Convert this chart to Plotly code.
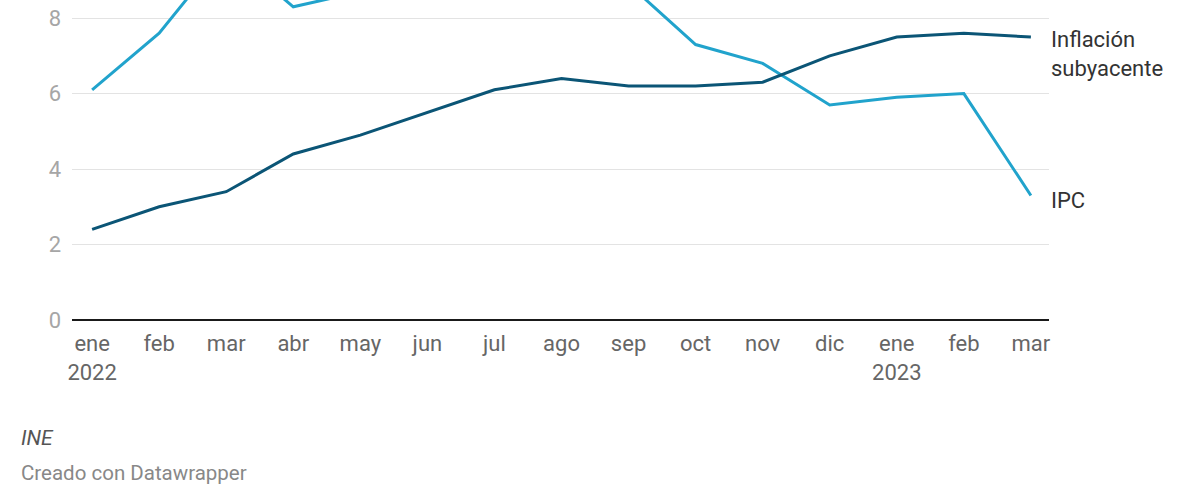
import plotly.graph_objects as go

# meses de ene 2022 a mar 2023
meses = ["ene<br>2022", "feb", "mar", "abr", "may", "jun", "jul", "ago",
         "sep", "oct", "nov", "dic", "ene<br>2023", "feb", "mar"]
ipc = [6.1, 7.6, 9.8, 8.3, 8.7, 10.2, 10.8, 10.5, 8.9, 7.3, 6.8, 5.7, 5.9, 6.0, 3.3]
subyacente = [2.4, 3.0, 3.4, 4.4, 4.9, 5.5, 6.1, 6.4, 6.2, 6.2, 6.3, 7.0, 7.5, 7.6, 7.5]
y_ticks = [0, 2, 4, 6, 8]

x = list(range(len(meses)))
font = "Roboto, Noto Sans, sans-serif"

fig = go.Figure()

fig.add_trace(go.Scatter(
    x=x, y=ipc, mode="lines", name="IPC",
    line=dict(color="#21a3cc", width=3),
))
fig.add_trace(go.Scatter(
    x=x, y=subyacente, mode="lines", name="Inflación subyacente",
    line=dict(color="#0b5576", width=3),
))

# etiquetas a la derecha de las lineas
fig.add_annotation(x=1, xref="paper", y=7.04, yref="y", xanchor="left",
                   text="Inflación<br>subyacente", showarrow=False, align="left",
                   font=dict(family=font, size=22, color="#333333"))
fig.add_annotation(x=1, xref="paper", y=3.18, yref="y", xanchor="left",
                   text="IPC", showarrow=False, align="left",
                   font=dict(family=font, size=22, color="#333333"))

# fuente y credito
fig.add_annotation(x=-0.054, xref="paper", y=-0.369, yref="paper",
                   xanchor="left", yanchor="middle", showarrow=False,
                   text="<i>INE</i>",
                   font=dict(family=font, size=21, color="#555555"))
fig.add_annotation(x=-0.054, xref="paper", y=-0.478, yref="paper",
                   xanchor="left", yanchor="middle", showarrow=False,
                   text="Creado con Datawrapper",
                   font=dict(family=font, size=20.5, color="#888888"))

fig.update_layout(
    width=1200, height=500,
    margin=dict(l=72, r=151, t=0, b=180),
    paper_bgcolor="white", plot_bgcolor="white",
    showlegend=False,
    font=dict(family=font),
    xaxis=dict(
        range=[-0.30, 14.27],
        tickmode="array", tickvals=x, ticktext=meses,
        showgrid=False, zeroline=False, showline=False,
        ticks="", ticklabelstandoff=8,
        tickfont=dict(size=22, color="#666666"),
        fixedrange=True,
    ),
    yaxis=dict(
        range=[0, 8.48],
        tickmode="array", tickvals=y_ticks,
        showgrid=True, gridcolor="#e3e3e3", gridwidth=1,
        zeroline=True, zerolinecolor="#1a1a1a", zerolinewidth=2,
        showline=False, ticks="", ticklabelstandoff=10,
        tickfont=dict(size=22, color="#a6a6a6"),
        fixedrange=True,
    ),
)

fig.write_html("out.html", config={"displayModeBar": False},
               post_script="document.body.style.margin='0';")
